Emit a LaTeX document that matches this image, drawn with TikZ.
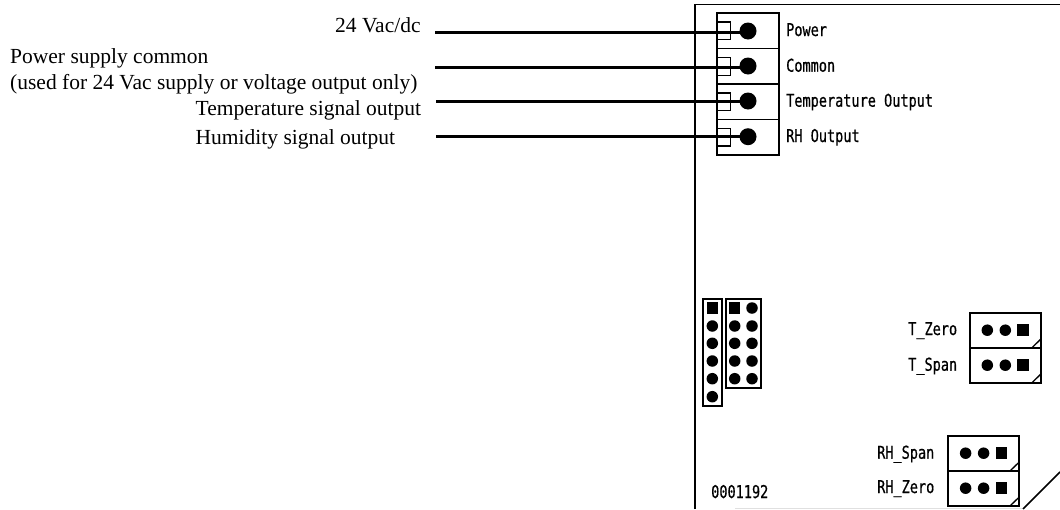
\documentclass[tikz,border=0pt]{standalone}
\usepackage{fontspec}
\setmainfont{Liberation Serif}
\newfontfamily\cad[FakeStretch=0.77,FakeBold=0.6]{DejaVu Sans Mono}
\tikzset{
 x=1pt,y=-1pt,
 lab/.style={inner sep=0pt,font=\fontsize{21.5}{24}\selectfont,anchor=base west,align=left},
 cadl/.style={inner sep=0pt,font=\cad\fontsize{17.6}{20}\selectfont,anchor=base west},
 wire/.style={line width=3pt},
 thin box/.style={draw,line width=1.7pt,fill=none},
 board/.style={line width=1.7pt},
 dotb/.style={circle,fill=black,inner sep=0pt,minimum size=#1},
 dotb/.default=11.5pt,
 sq/.style={rectangle,fill=black,inner sep=0pt,minimum size=#1},
 sq/.default=11.5pt,
}
\newcommand{\jumper}[2]{% x y
 \draw[thin box] (#1,#2) rectangle ++(70.7,35);
 \node[dotb] at (#1+17.3,#2+17.5) {};
 \node[dotb] at (#1+35.3,#2+17.5) {};
 \node[sq] at (#1+53,#2+17.5) {};
 \draw[line width=1.3pt] (#1+62,#2+35) -- (#1+70.7,#2+26.5);
}
\begin{document}
\begin{tikzpicture}
\useasboundingbox (0,0) rectangle (1060,509);
% board
\draw[line width=1pt,black!12] (735,508.5) -- (1023,508.5);
\draw[board] (695,509) -- (695,4.5) -- (1060,4.5);
\draw[board] (1023,509) coordinate (dA) -- (1060,472) coordinate (dB);
% terminal block
\draw[thin box] (717,13) rectangle (778.7,155);
\foreach \yy in {48.3,84,119.3} \draw[line width=1.5pt] (717,\yy) -- (778.7,\yy);
\foreach \yy/\wy/\xs/\nm/\sy in {31/32/435/p/22,66/67.5/435/c/57.7,101/101.5/436/t/93,136.7/136.7/436/r/128.3}{
  \node[dotb=17pt] (\nm) at (748,\yy) {};
  \draw[line width=1.4pt] (717,\sy) rectangle (730.5,\sy+17.5);
  \coordinate (w\nm) at (\xs,\wy);
  \draw[wire] (w\nm) -- (748,\wy);
}
\node[cadl] at (786,36) {Power};
\node[cadl] at (786,71.7) {Common};
\node[cadl] at (786,106.7) {Temperature Output};
\node[cadl] at (786,142) {RH Output};
% left labels
\node[lab] at (335,32.5) {24 Vac/dc};
\node[lab] at (10,63.5) {Power supply common};
\node[lab] at (10,89.5) {(used for 24 Vac supply or voltage output only)};
\node[lab] at (195.5,115.5) {Temperature signal output};
\node[lab] at (195.5,144.5) {Humidity signal output};
% headers
\draw[thin box] (703.3,299.3) rectangle (721.7,405.7);
\draw[thin box] (725.7,299.3) rectangle (761,387.7);
\node[sq] at (712.3,308) {};
\foreach \yy in {326,343.3,361,378.7,396.7} \node[dotb] at (712.3,\yy) {};
\node[sq] at (734.7,308) {};
\node[dotb] at (752,308) {};
\foreach \yy in {326,343.3,361,378.7}{\node[dotb] at (734.7,\yy) {};\node[dotb] at (752,\yy) {};}
% jumpers
\jumper{970}{312.7}
\jumper{970}{347.7}
\jumper{948.3}{435.7}
\jumper{948.3}{470.7}
\node[cadl] at (908,335) {T\_Zero};
\node[cadl] at (908,370.7) {T\_Span};
\node[cadl] at (877,458.7) {RH\_Span};
\node[cadl] at (877,493) {RH\_Zero};
\node[cadl] at (711,498) {0001192};
\end{tikzpicture}
\end{document}
